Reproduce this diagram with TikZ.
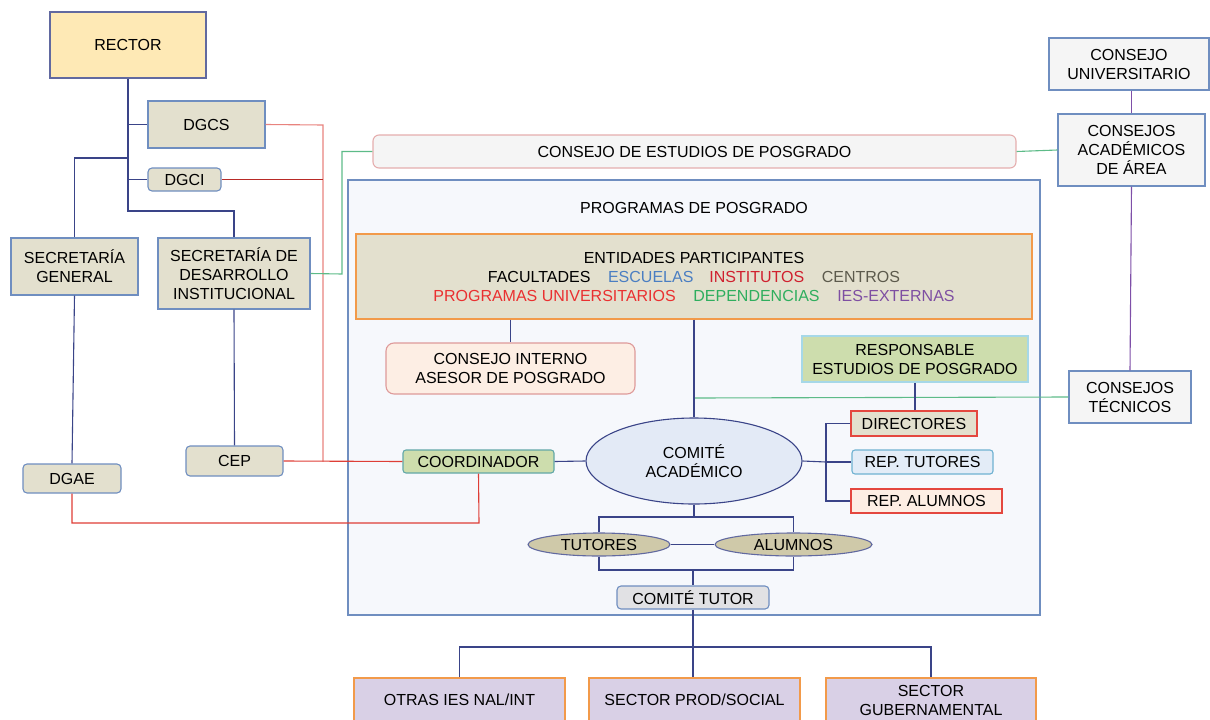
\documentclass[tikz,border=0pt]{standalone}
\usepackage{fontspec}
\setmainfont{Liberation Sans}
\usetikzlibrary{shapes.geometric}
\newcommand\orgfont{\fontsize{16}{19}\selectfont}

\definecolor{navy}{HTML}{3A4488}
\definecolor{bordB}{HTML}{6F8EC0}
\definecolor{beige}{HTML}{E3E0CE}
\definecolor{rectorfill}{HTML}{FEE9B5}
\definecolor{greyfill}{HTML}{F5F5F5}
\definecolor{progfill}{HTML}{F6F8FC}
\definecolor{orangeB}{HTML}{F29A4A}
\definecolor{peach}{HTML}{FDEEE4}
\definecolor{pinkB}{HTML}{DE9A9A}
\definecolor{lgreen}{HTML}{CDDDAD}
\definecolor{cyanB}{HTML}{A6D8E8}
\definecolor{tealB}{HTML}{62A8A8}
\definecolor{redB}{HTML}{E4473F}
\definecolor{lblue}{HTML}{E3ECF7}
\definecolor{skyB}{HTML}{6FB2D2}
\definecolor{comfill}{HTML}{E3EAF6}
\definecolor{khaki}{HTML}{CFC9A9}
\definecolor{ctfill}{HTML}{E1E1E4}
\definecolor{lav}{HTML}{D9D0E6}
\definecolor{lnred}{HTML}{DE3E36}
\definecolor{lnredlight}{HTML}{E8837E}
\definecolor{lndark}{HTML}{B82A26}
\definecolor{lngreen}{HTML}{5DBB88}
\definecolor{lnpurple}{HTML}{7E4FA8}
\definecolor{tblue}{HTML}{4A7EC2}
\definecolor{tred}{HTML}{D0202E}
\definecolor{tolive}{HTML}{5C5A4C}
\definecolor{tred2}{HTML}{EA3030}
\definecolor{tgreen}{HTML}{2FAE5E}
\definecolor{tpurple}{HTML}{7E4FA2}

\tikzset{
  base/.style={draw, inner sep=0pt, align=center, font=\orgfont, line width=1.1pt},
  blkbox/.style={base, draw=bordB, fill=beige},
  rblkbox/.style={blkbox, rounded corners=4pt},
  greybox/.style={base, draw=bordB, fill=greyfill},
  lavbox/.style={base, draw=orangeB, fill=lav},
  conn/.style={draw=navy, line width=1.1pt},
  redconn/.style={draw=lnred, line width=1.1pt},
  greenconn/.style={draw=lngreen, line width=1.1pt},
  purpleconn/.style={draw=lnpurple, line width=1.1pt},
}

\begin{document}
\begin{tikzpicture}[x=1pt,y=-1pt]
\useasboundingbox (0,0) rectangle (1210,720);

% outer frame of the postgraduate programmes
\node[base, draw=bordB, fill=progfill, minimum width=692pt, minimum height=435pt] (prog) at (694,397.5) {};
\node[font=\orgfont, inner sep=0pt] (progtitle) at (694,208) {PROGRAMAS DE POSGRADO};

% university-level offices
\node[base, draw=navy!80, fill=rectorfill, minimum width=156pt, minimum height=66pt] (rector) at (128,45) {RECTOR};
\node[blkbox, minimum width=117pt, minimum height=47pt] (dgcs) at (206.5,124.5) {DGCS};
\node[rblkbox, minimum width=73pt, minimum height=23pt] (dgci) at (184.5,179.5) {DGCI};
\node[blkbox, minimum width=127pt, minimum height=57pt] (sg) at (74.5,266.5) {SECRETARÍA\\GENERAL};
\node[blkbox, minimum width=152pt, minimum height=71pt] (sdi) at (234,273.5) {SECRETARÍA DE\\DESARROLLO\\INSTITUCIONAL};
\node[rblkbox, minimum width=97pt, minimum height=30pt] (cep) at (234.5,461) {CEP};
\node[rblkbox, minimum width=98pt, minimum height=29pt] (dgae) at (72,478.5) {DGAE};

% councils
\node[base, draw=pinkB!80, fill=greyfill, rounded corners=6pt, minimum width=643pt, minimum height=33pt] (cposg) at (694.5,151.5) {CONSEJO DE ESTUDIOS DE POSGRADO};
\node[greybox, minimum width=160pt, minimum height=52pt] (cu) at (1129,64) {CONSEJO\\UNIVERSITARIO};
\node[greybox, minimum width=147pt, minimum height=72pt] (caa) at (1131.5,150) {CONSEJOS\\ACADÉMICOS\\DE ÁREA};
\node[greybox, minimum width=122pt, minimum height=52pt] (ct) at (1130,397) {CONSEJOS\\TÉCNICOS};

% participating entities
\node[base, draw=orangeB, fill=beige, minimum width=676pt, minimum height=85pt] (ent) at (694,276.5) {%
  ENTIDADES PARTICIPANTES\\
  FACULTADES\hspace{1.1em}{\color{tblue}ESCUELAS}\hspace{1em}{\color{tred}INSTITUTOS}\hspace{1.1em}{\color{tolive}CENTROS}\\
  {\color{tred2}PROGRAMAS UNIVERSITARIOS}\hspace{1.1em}{\color{tgreen}DEPENDENCIAS}\hspace{1.1em}{\color{tpurple}IES-EXTERNAS}};

\node[base, draw=pinkB, fill=peach, rounded corners=8pt, minimum width=249pt, minimum height=51pt] (ciap) at (510.5,368.5) {CONSEJO INTERNO\\ASESOR DE POSGRADO};
\node[base, draw=cyanB, fill=lgreen, minimum width=226pt, minimum height=46pt] (resp) at (915,359) {RESPONSABLE\\ESTUDIOS DE POSGRADO};

% academic committee and its members
\node[base, ellipse, draw=navy, fill=comfill, minimum width=216pt, minimum height=86pt] (comite) at (694,461) {COMITÉ\\ACADÉMICO};
\node[base, draw=tealB, fill=lgreen, rounded corners=3pt, minimum width=151pt, minimum height=23pt] (coord) at (478.5,461.5) {COORDINADOR};
\node[base, draw=redB, fill=beige, minimum width=126pt, minimum height=25pt] (dir) at (914,423.5) {DIRECTORES};
\node[base, draw=skyB, fill=lblue, rounded corners=3pt, minimum width=141pt, minimum height=24pt] (rept) at (922.5,462) {REP. TUTORES};
\node[base, draw=redB, fill=peach, minimum width=151pt, minimum height=24pt] (repa) at (926.5,501) {REP. ALUMNOS};

\node[base, ellipse, draw=navy!80, fill=khaki, minimum width=142pt, minimum height=23pt] (tut) at (599,544.5) {TUTORES};
\node[base, ellipse, draw=navy!80, fill=khaki, minimum width=157pt, minimum height=23pt] (alu) at (793.5,544.5) {ALUMNOS};
\node[base, draw=bordB, fill=ctfill, rounded corners=4pt, minimum width=152pt, minimum height=23pt] (ctut) at (693,597.5) {COMITÉ TUTOR};

% external sectors
\node[lavbox, minimum width=211pt, minimum height=44pt] (otras) at (459.5,700) {OTRAS IES NAL/INT};
\node[lavbox, minimum width=211pt, minimum height=44pt] (sps) at (694.5,700) {SECTOR PROD/SOCIAL};
\node[lavbox, minimum width=210pt, minimum height=44pt] (sgub) at (931,700) {SECTOR\\GUBERNAMENTAL};

% helper points
\coordinate (rtrunk) at (128,211);
\coordinate (sgbranch) at (128,158);
\coordinate (redbus) at (323,125);
\coordinate (greenbend) at (342,274);
\coordinate (ctline) at (695,398);
\coordinate (brk) at (826,462);
\coordinate (redlow) at (479,523);
\coordinate (topbar) at (694,517);
\coordinate (lowbar) at (693,570);
\coordinate (sectbar) at (693,647);

% hierarchy lines from the rector
\draw[conn] (rector.south) -- (rtrunk) -| (sdi.north);
\draw[conn] (rector.south |- dgcs.west) -- (dgcs.west);
\draw[conn] (rector.south |- dgci.west) -- (dgci.west);
\draw[conn] (sgbranch) -| (sg.north);
\draw[conn] (sg.south) -- (dgae.north);
\draw[conn] (sdi.south) -- (cep.north);

% red coordination lines
\draw[draw=lnredlight, line width=1.1pt] (dgcs.east) -- (redbus) -- (redbus |- coord.west);
\draw[draw=lndark, line width=1.1pt] (dgci.east) -- (redbus |- dgci.east);
\draw[redconn] (cep.east) -- (coord.west);
\draw[redconn] (coord.south) -- (redlow) -| (dgae.south);

% green links
\draw[greenconn] (sdi.east) -- (greenbend) |- (cposg.west);
\draw[greenconn] (cposg.east) -- (caa.west);
\draw[greenconn] (ct.west) -- (ctline);

% purple links between councils
\draw[purpleconn] (caa.north |- cu.south) -- (caa.north);
\draw[purpleconn] (caa.south) -- (ct.north);

% inside the programmes
\draw[conn] (comite.north |- ent.south) -- (comite.north);
\draw[conn] (ciap.north |- ent.south) -- (ciap.north);
\draw[conn] (dir.north -| resp.south) -- (resp.south);
\draw[conn] (coord.east) -- (comite.west);
\draw[conn] (comite.east) -- (brk);
\draw[conn] (dir.west) -| (brk) |- (repa.west);
\draw[conn] (brk) -- (rept.west);

\draw[conn] (comite.south) -- (topbar);
\draw[conn] (tut.north) |- (topbar) -| (alu.north);
\draw[conn] (tut.east) -- (alu.west);
\draw[conn] (tut.south) |- (lowbar) -| (alu.south);
\draw[conn] (lowbar) -- (ctut.north);

% links to the external sectors
\draw[conn] (ctut.south) -- (sectbar);
\draw[conn] (otras.north) |- (sectbar) -| (sgub.north);
\draw[conn] (sectbar) -- (sps.north -| sectbar);
\end{tikzpicture}
\end{document}
